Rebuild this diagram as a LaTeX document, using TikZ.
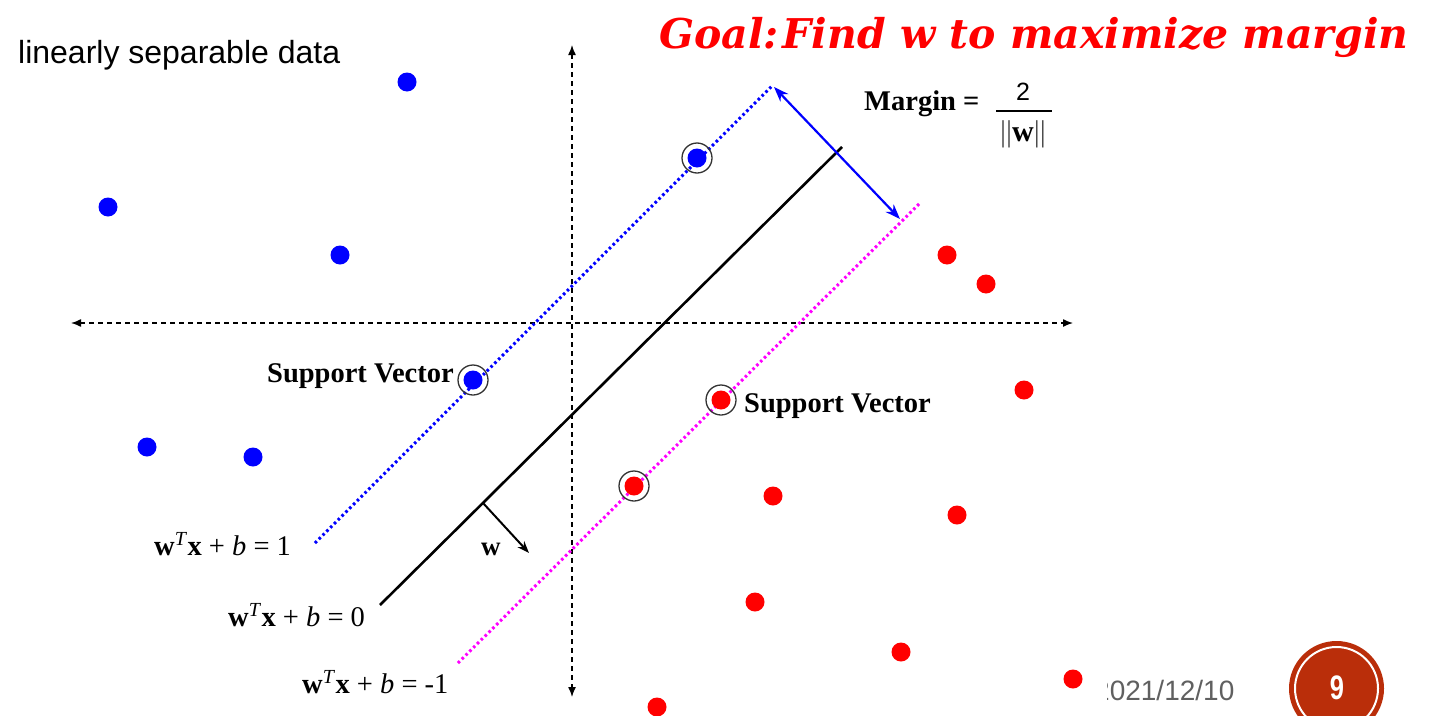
\documentclass[tikz,border=0pt]{standalone}
\usepackage{fontspec}
\setmainfont{Liberation Serif}
\setsansfont{Liberation Sans}
\newfontfamily\titlefont{DejaVu Serif}
\usetikzlibrary{arrows.meta}

\definecolor{svmblue}{RGB}{0,0,255}
\definecolor{svmred}{RGB}{255,0,0}
\definecolor{svmmagenta}{RGB}{255,0,255}
\definecolor{pagered}{RGB}{186,46,10}
\definecolor{dategray}{RGB}{96,96,96}

\tikzset{
  axis/.style={line width=1.4pt, dash pattern=on 5pt off 4pt,
    {Latex[length=10pt,width=8pt]}-{Latex[length=10pt,width=8pt]}},
  bluept/.style={circle, fill=svmblue, inner sep=0pt, minimum size=19pt},
  redpt/.style={circle, fill=svmred, inner sep=0pt, minimum size=19pt},
  ring/.style={circle, draw=black!80, line width=1.3pt, inner sep=0pt, minimum size=30pt},
  eqlabel/.style={font=\fontsize{28.5}{32}\selectfont, inner sep=0pt, anchor=base west},
  svlabel/.style={font=\fontsize{28.5}{32}\selectfont\bfseries, inner sep=0pt, anchor=base west},
}

\newcommand{\hyp}[1]{\textbf{w}\textsuperscript{\textit{T}}\textbf{x} + \textit{b} = #1}

\begin{document}
\begin{tikzpicture}[x=1pt, y=-1pt]
  \useasboundingbox (0,0) rectangle (1432,715);
  % Axes
  \coordinate (xl) at (71,323);
  \coordinate (xr) at (1073,323);
  \coordinate (yt) at (572,45);
  \coordinate (yb) at (572,697);
  \draw[axis] (xl) -- (xr);
  \draw[axis] (yt) -- (yb);
  % Hyperplanes
  \coordinate (pos1) at (315,543);
  \coordinate (pos2) at (773,85);
  \coordinate (mid1) at (380,605);
  \coordinate (mid2) at (842,147);
  \coordinate (neg1) at (458,663);
  \coordinate (neg2) at (920,203);
  \draw[svmblue, line width=3pt, dash pattern=on 2.6pt off 2.8pt] (pos1) -- (pos2);
  \draw[black, line width=2.6pt] (mid1) -- (mid2);
  \draw[svmmagenta, line width=3pt, dash pattern=on 2.6pt off 2.8pt] (neg1) -- (neg2);
  % Margin and normal vector
  \coordinate (mtop) at (774,87);
  \coordinate (mbot) at (900,219);
  \draw[svmblue, line width=2.2pt, {Stealth[length=15pt,width=11pt]}-{Stealth[length=15pt,width=11pt]}] (mtop) -- (mbot);
  \coordinate (wfoot) at (483,503);
  \coordinate (wtip) at (529,553);
  \draw[line width=2pt, -{Stealth[length=12pt,width=9pt]}] (wfoot) -- (wtip);
  \node[inner sep=0pt, anchor=base west, font=\fontsize{27}{30}\selectfont\bfseries] (wlbl) at (481,555) {w};
  % Data points
  \foreach \px/\py [count=\i] in {407/82, 108/207, 340/255, 147/447, 253/457}
    \node[bluept] (b\i) at (\px,\py) {};
  \foreach \px/\py [count=\i] in {947/255, 986/284, 1024/390, 773/496, 957/515,
      755/602, 901/652, 657/707}
    \node[redpt] (r\i) at (\px,\py) {};
  % Support vectors
  \node[bluept] (sv1) at (697,158) {};
  \node[bluept] (sv2) at (473,380) {};
  \node[redpt] (sv3) at (721,400) {};
  \node[redpt] (sv4) at (634,486) {};
  \foreach \s in {sv1, sv2, sv3, sv4}
    \node[ring] at (\s) {};
  \node[svlabel] (svl) at (267,382) {Support Vector};
  \node[svlabel] (svr) at (744,412) {Support Vector};
  % Equations
  \node[eqlabel] (eqpos) at (154,555) {\hyp{1}};
  \node[eqlabel] (eqmid) at (228,626) {\hyp{0}};
  \node[eqlabel] (eqneg) at (302,693) {\hyp{-1}};
  % Margin formula
  \node[svlabel] (mlbl) at (864,110) {Margin =};
  \node[inner sep=0pt, anchor=base, font=\fontsize{25}{28}\selectfont\sffamily] (two) at (1023,100) {2};
  \coordinate (bar1) at (996,111);
  \coordinate (bar2) at (1052,111);
  \draw[line width=2pt] (bar1) -- (bar2);
  \node[inner sep=0pt, anchor=base, font=\fontsize{30}{32}\selectfont] (normw) at (1023,141) {\textcolor{black!70}{||}\textbf{w}\textcolor{black!70}{||}};
  % Texts
  \node[inner sep=0pt, anchor=base west, font=\fontsize{32}{36}\selectfont\sffamily] (data) at (18,63) {linearly separable data};
  \node[inner sep=0pt, anchor=base west, text=svmred, font=\fontsize{41}{46}\selectfont\titlefont\bfseries\itshape] (goal) at (659,48) {Goal:\kern4pt Find w to maximize margin};
  % Footer
  \begin{scope}
    \clip (1107,660) rectangle (1270,715);
    \node[inner sep=0pt, anchor=base west, text=dategray, font=\fontsize{28}{32}\selectfont\sffamily] (date) at (1094,700) {2021/12/10};
  \end{scope}
  \node[redpt] (r9) at (1073,679) {};
  \node[circle, fill=pagered, inner sep=0pt, minimum size=95pt] (page) at (1336.5,688.5) {};
  \node[circle, draw=white, line width=2pt, inner sep=0pt, minimum size=83pt] at (page) {};
  \node[text=white, font=\fontsize{34}{36}\selectfont\sffamily\bfseries, xscale=0.75] at (1337,688) {9};
\end{tikzpicture}
\end{document}
